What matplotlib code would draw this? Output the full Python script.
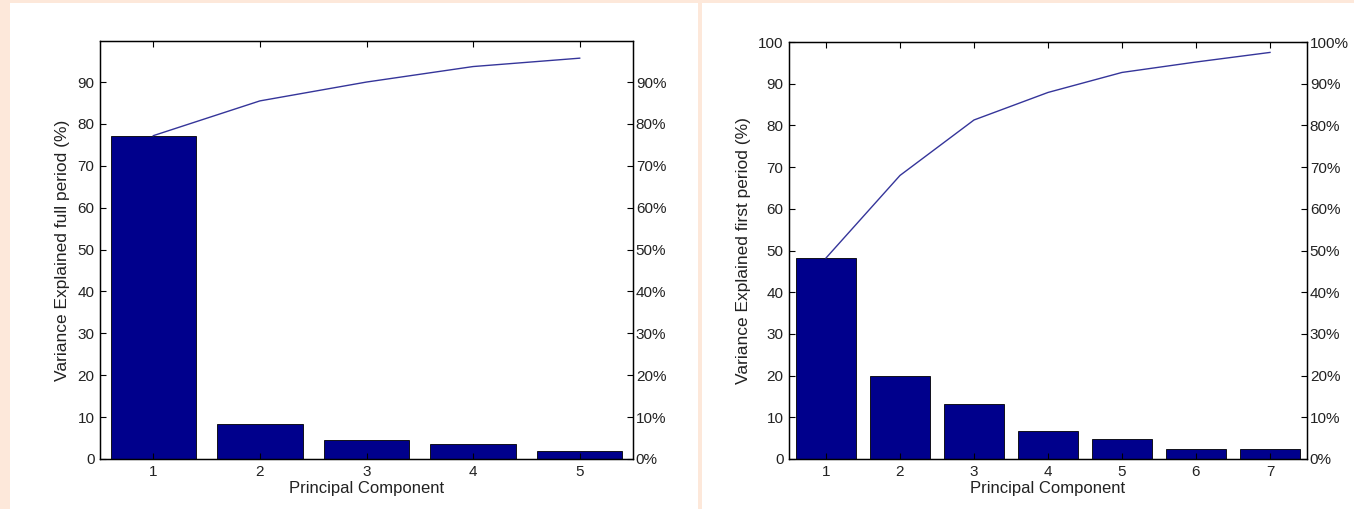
import matplotlib.pyplot as plt
from matplotlib.patches import Rectangle
from matplotlib.ticker import FuncFormatter

plt.rcParams['font.family'] = ['Liberation Sans', 'DejaVu Sans']
plt.rcParams['font.size'] = 11

# variance explained per principal component (%)
full_components = [1, 2, 3, 4, 5]
full_variance = [77.2, 8.3, 4.5, 3.7, 2.0]

first_components = [1, 2, 3, 4, 5, 6, 7]
first_variance = [48.2, 19.8, 13.3, 6.6, 4.8, 2.5, 2.3]

bar_color = '#00008C'
line_color = '#35359A'
peach = '#FDE8DA'
text_color = '#222222'

W, H = 1354, 509
fig = plt.figure(figsize=(W / 100, H / 100), dpi=100, facecolor=peach)

# white panels behind each chart
fig.patches.append(Rectangle((10 / W, 0), 688 / W, 506 / H, transform=fig.transFigure,
                             facecolor='white', edgecolor='none', zorder=-10))
fig.patches.append(Rectangle((702 / W, 0), 652 / W, 506 / H, transform=fig.transFigure,
                             facecolor='white', edgecolor='none', zorder=-10))


def pareto(rect, comps, vals, ylabel, ytop, yticks):
    ax = fig.add_axes(rect)
    ax.bar(comps, vals, width=0.8, color=bar_color, edgecolor='black', linewidth=0.6)
    cum = []
    total = 0
    for v in vals:
        total += v
        cum.append(total)
    ax.plot(comps, cum, color=line_color, linewidth=1.0)
    ax.set_xlim(0.5, len(comps) + 0.5)
    ax.set_ylim(0, ytop)
    ax.set_xticks(comps)
    ax.set_yticks(yticks)
    ax.tick_params(direction='in', length=4, top=True, labelsize=11, pad=4,
                   labelcolor=text_color)
    ax.set_xlabel('Principal Component', fontsize=12, labelpad=2, color=text_color)
    ax.set_ylabel(ylabel, fontsize=12.5, labelpad=5, color=text_color)
    for s in ax.spines.values():
        s.set_linewidth(1.0)

    ax2 = ax.twinx()
    ax2.set_ylim(0, ytop)
    ax2.set_yticks(yticks)
    ax2.yaxis.set_major_formatter(FuncFormatter(lambda v, p: '%d%%' % v))
    ax2.tick_params(direction='in', length=4, labelsize=11, pad=2, labelcolor=text_color)
    return ax


pareto([100 / W, 50 / H, 533 / W, 418 / H], full_components, full_variance,
       'Variance Explained full period (%)', 99.8, list(range(0, 100, 10)))
pareto([789 / W, 50 / H, 518 / W, 417 / H], first_components, first_variance,
       'Variance Explained first period (%)', 100, list(range(0, 101, 10)))

fig.savefig('out.png', dpi=100, facecolor=peach)
